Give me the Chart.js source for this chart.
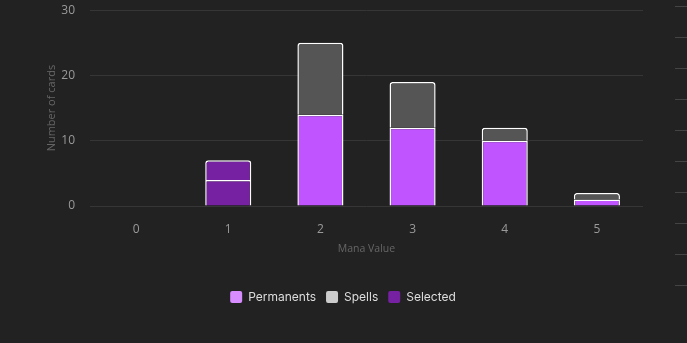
<!DOCTYPE html>
<html>
<head>
<meta charset="utf-8">
<script src="https://cdn.jsdelivr.net/npm/chart.js@4.4.0/dist/chart.umd.min.js"></script>
<style>
  html, body { margin: 0; padding: 0; background: #222222; }
  .wrap { position: relative; width: 687px; height: 343px; overflow: hidden; }
  .chart-box { position: absolute; left: 0; top: -12px; width: 687px; height: 325px; }
  /* little ruler marks on the right edge */
  .ruler { position: absolute; left: 675px; top: 6px; width: 12px; height: 290px;
    background: repeating-linear-gradient(to bottom, #444 0px, #444 1px, transparent 1px, transparent 31px); }
</style>
</head>
<body>
<div class="wrap">
  <div class="chart-box"><canvas id="myChart"></canvas></div>
  <div class="ruler"></div>
</div>
<script>
// Data
const manaValues = ['0', '1', '2', '3', '4', '5'];
const permanents = [0, 4, 14, 12, 10, 1];
const spells = [0, 3, 11, 7, 2, 1];
const selectedIndex = 1; // the bar the user clicked on
const yTicks = [0, 10, 20, 30];

const permColor = '#c054fe';
const spellColor = '#555555';
const selColor = '#7620a2';
// legend swatches are lighter than the bars
const legendColors = ['#d78cff', '#cccccc', '#7620a2'];

function colorsFor(base) {
    return manaValues.map((v, i) => i === selectedIndex ? selColor : base);
}

const ctx = document.getElementById('myChart').getContext('2d');
window.myChart = new Chart(ctx, {
    type: 'bar',
    data: {
        labels: manaValues,
        datasets: [{
            label: 'Permanents',
            data: permanents,
            backgroundColor: colorsFor(permColor),
            borderColor: '#ffffff',
            borderWidth: 1.5,
            borderSkipped: 'bottom',
            barPercentage: 0.5,
            categoryPercentage: 1
        }, {
            label: 'Spells',
            data: spells,
            backgroundColor: colorsFor(spellColor),
            borderColor: '#ffffff',
            borderWidth: 1.5,
            borderSkipped: 'bottom',
            borderRadius: { topLeft: 3, topRight: 3 },
            barPercentage: 0.5,
            categoryPercentage: 1
        }, {
            label: 'Selected',
            data: [],
            backgroundColor: selColor
        }]
    },
    options: {
        responsive: true,
        maintainAspectRatio: false,
        animation: false,
        layout: { padding: { left: 43, right: 44, top: 0, bottom: 0 } },
        scales: {
            x: {
                stacked: true,
                grid: { display: false },
                border: { display: false },
                ticks: { color: '#9a9a9a', font: { family: 'Open Sans', size: 12 }, padding: 8 },
                title: {
                    display: true,
                    text: 'Mana Value',
                    color: '#666666',
                    font: { family: 'Open Sans', size: 10.5 },
                    padding: { top: -2, bottom: 26 }
                }
            },
            y: {
                stacked: true,
                min: 0,
                max: 30,
                afterBuildTicks: axis => { axis.ticks = yTicks.map(v => ({ value: v })); },
                afterFit: axis => { axis.width = 47; }, // keep the title close to the ticks
                grid: { color: '#363636', drawTicks: false },
                border: { display: false },
                ticks: { color: '#9a9a9a', font: { family: 'Open Sans', size: 12 }, padding: 15 },
                title: {
                    display: true,
                    text: 'Number of cards',
                    color: '#666666',
                    font: { family: 'Open Sans', size: 11 },
                    padding: 2
                }
            }
        },
        plugins: {
            legend: {
                position: 'bottom',
                labels: {
                    color: '#dddddd',
                    font: { family: 'Inter', size: 12 },
                    boxWidth: 12,
                    boxHeight: 12,
                    padding: 10,
                    generateLabels: chart => chart.data.datasets.map((ds, i) => ({
                        text: ds.label,
                        fillStyle: legendColors[i],
                        strokeStyle: legendColors[i],
                        lineWidth: 0,
                        fontColor: '#dddddd',
                        borderRadius: 2,
                        datasetIndex: i,
                        hidden: false
                    })),
                    useBorderRadius: true,
                    borderRadius: 2
                }
            },
            tooltip: { enabled: false }
        }
    }
});
</script>
</body>
</html>
